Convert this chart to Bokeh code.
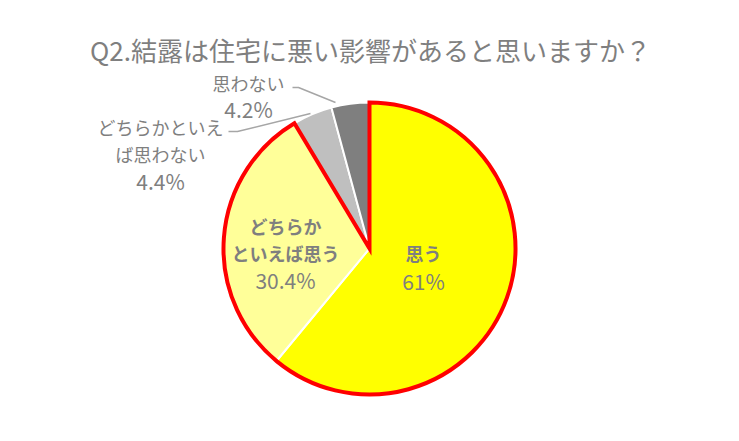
import math
from bokeh.plotting import figure
from bokeh.models import Range1d, ColumnDataSource
from bokeh.core.properties import value
from bokeh.embed import file_html
from bokeh.resources import INLINE

# ---- data ----
categories = ["思う", "どちらかといえば思う", "どちらかといえば思わない", "思わない"]
percents = [61.0, 30.4, 4.4, 4.2]
pct_labels = ["61%", "30.4%", "4.4%", "4.2%"]
label_lines = [["思う"], ["どちらか", "といえば思う"], ["どちらかといえ", "ば思わない"], ["思わない"]]
title_text = "Q2.結露は住宅に悪い影響があると思いますか？"

# ---- styles / layout (screen-pixel coordinates, y measured from top) ----
colors = ["#FFFF00", "#FFFF99", "#BFBFBF", "#7F7F7F"]
text_color = "#7F7F7F"
W, H = 723, 425
PCX, PCY, R = 369, 248, 146
# first-line position of each label block
label_pos = [(423, 252), (285, 225), (160, 126), (248, 82)]
line_gaps = [28, 27, 27, 26]
label_bold = [True, True, False, False]
leader_1 = ([292, 298, 335], [87, 87, 102])
leader_2 = ([228, 237, 310], [131, 131, 113])
FONT = "Noto Sans CJK JP"


def Y(py):
    return H - py


p = figure(width=W, height=H, output_backend="svg", toolbar_location=None,
           x_range=Range1d(0, W), y_range=Range1d(0, H), min_border=0)
p.axis.visible = False
p.grid.visible = False
p.outline_line_color = None
p.background_fill_color = "white"

total = sum(percents)
starts, ends = [], []
c = 0.0
for v in percents:
    c0 = c
    c1 = c + v / total
    starts.append(math.pi / 2 - c1 * 2 * math.pi)
    ends.append(math.pi / 2 - c0 * 2 * math.pi)
    c = c1

src = ColumnDataSource(dict(start=starts, end=ends, color=colors))
p.wedge(x=PCX, y=Y(PCY), radius=R, start_angle="start", end_angle="end",
        fill_color="color", line_color="white", line_width=2, source=src)

# red outline around the two "agree" slices
agree_frac = (percents[0] + percents[1]) / total
p.wedge(x=PCX, y=Y(PCY), radius=R, start_angle=math.pi / 2 - agree_frac * 2 * math.pi,
        end_angle=math.pi / 2, fill_alpha=0, line_color="#FF0000", line_width=4,
        line_join="miter")

# leader lines
for lx, ly in (leader_1, leader_2):
    p.line(lx, [Y(v) for v in ly], line_color="#A6A6A6", line_width=1.5)

# title
p.text(x=[370], y=[Y(49)], text=[title_text], text_align="center", text_baseline="middle",
       text_color=text_color, text_font=value(FONT), text_font_size="26px")

# labels
for i, lines in enumerate(label_lines):
    lx, ly = label_pos[i]
    g = line_gaps[i]
    ys = [Y(ly + k * g) for k in range(len(lines))]
    p.text(x=[lx] * len(lines), y=ys, text=lines, text_align="center", text_baseline="middle",
           text_color=text_color, text_font=value(FONT), text_font_size="18px",
           text_font_style="bold" if label_bold[i] else "normal")
    p.text(x=[lx], y=[Y(ly + len(lines) * g)], text=[pct_labels[i]], text_align="center",
           text_baseline="middle", text_color=text_color, text_font=value(FONT),
           text_font_size="21px")

open("out.html", "w").write(file_html(p, INLINE))
